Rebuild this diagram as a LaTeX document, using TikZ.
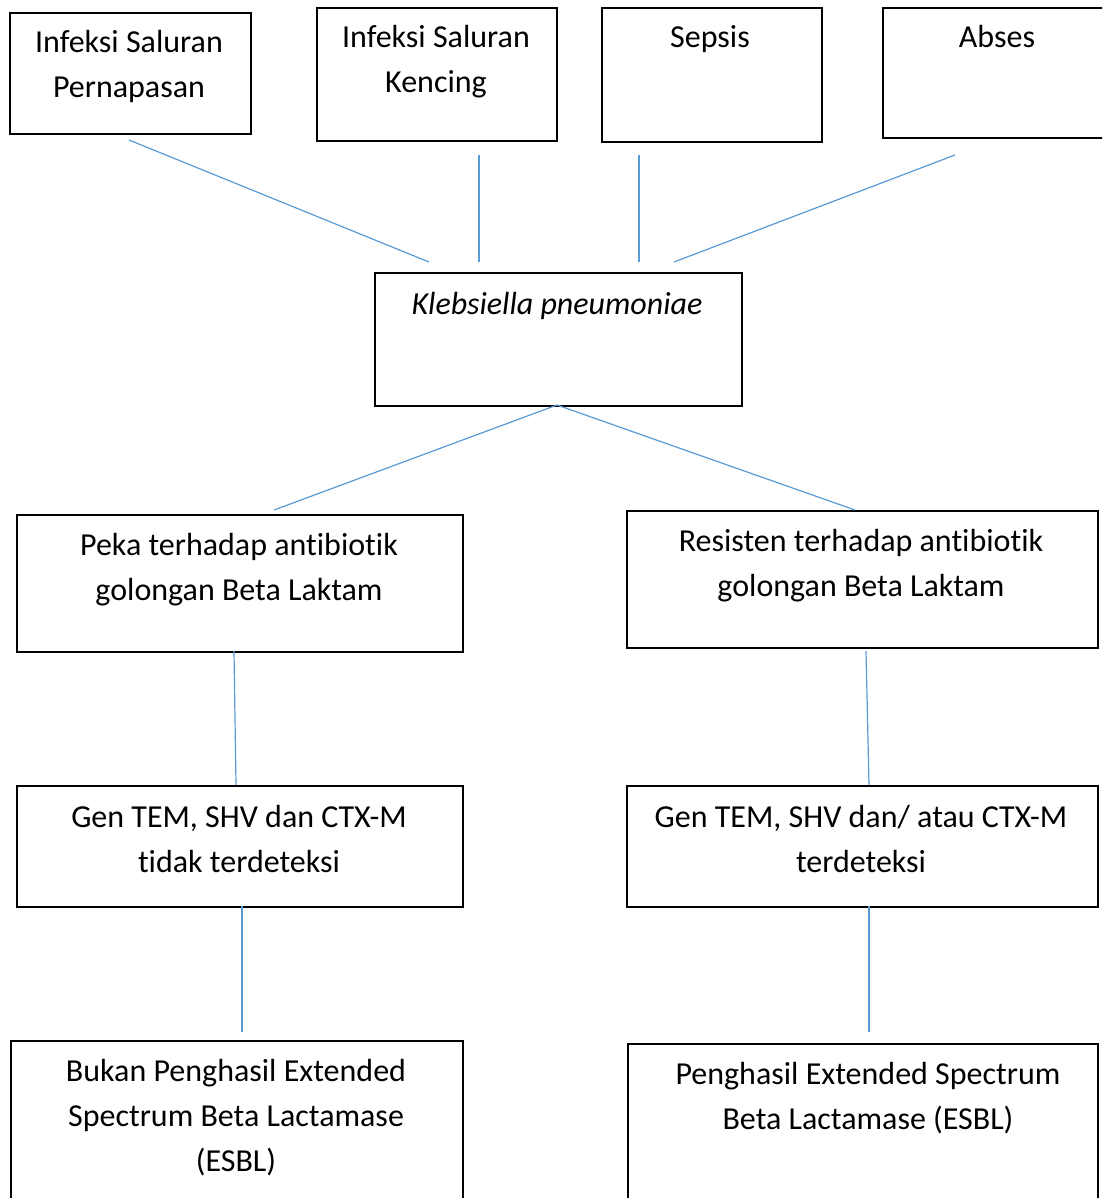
\documentclass[tikz,border=0pt]{standalone}
\usepackage{fontspec}
\setmainfont[Ligatures=NoCommon]{Carlito}
\begin{document}
\begin{tikzpicture}[x=1pt,y=-1pt,
  box/.style={draw=black, line width=1.8pt, fill=none, inner sep=0pt, anchor=north west},
  txt/.style={font=\fontsize{32}{45}\selectfont, align=center, anchor=base, inner sep=0pt, text=black},
  link/.style={draw={rgb,255:red,91;green,155;blue,213}, line width=1.2pt}]
\clip (0,0) rectangle (1102,1198);
\fill[white] (0,0) rectangle (1102,1198);
% boxes
\node[box, minimum width=241pt, minimum height=121pt] (isp) at (9,12) {};
\node[box, minimum width=240pt, minimum height=133pt] (isk) at (316,7) {};
\node[box, minimum width=220pt, minimum height=134pt] (sep) at (601,7) {};
\node[box, minimum width=240pt, minimum height=130pt] (abs) at (882,7) {};
\node[box, minimum width=367pt, minimum height=133pt] (kp) at (374,272) {};
\node[box, minimum width=446pt, minimum height=137pt] (peka) at (16,514) {};
\node[box, minimum width=471pt, minimum height=137pt] (res) at (626,510) {};
\node[box, minimum width=446pt, minimum height=121pt] (genl) at (16,785) {};
\node[box, minimum width=471pt, minimum height=121pt] (genr) at (626,785) {};
\node[box, minimum width=452pt, minimum height=200pt] (bukan) at (10,1040) {};
\node[box, minimum width=470pt, minimum height=200pt] (peng) at (627,1043) {};
% texts (anchor = baseline of last line)
\node[txt] (tisp) at (129,98) {Infeksi Saluran\\Pernapasan};
\node[txt] (tisk) at (436,93) {Infeksi Saluran\\Kencing};
\node[txt] (tsep) at (710,48) {Sepsis};
\node[txt] (tabs) at (997,48) {Abses};
\node[txt] (tkp) at (557,314) {\itshape Klebsiella pneumoniae};
\node[txt] (tpeka) at (239,600) {Peka terhadap antibiotik\\golongan Beta Laktam};
\node[txt] (tres) at (861,596) {Resisten terhadap antibiotik\\golongan Beta Laktam};
\node[txt] (tgenl) at (239,872) {Gen TEM, SHV dan CTX-M\\tidak terdeteksi};
\node[txt] (tgenr) at (861,872) {Gen TEM, SHV dan/ atau CTX-M\\terdeteksi};
\node[txt] (tbukan) at (236,1171) {Bukan Penghasil Extended\\Spectrum Beta Lactamase\\(ESBL)};
\node[txt] (tpeng) at (868,1129) {Penghasil Extended Spectrum\\Beta Lactamase (ESBL)};
% connector end points
\coordinate (a1) at (129,140); \coordinate (a2) at (429,262);
\coordinate (b1) at (479,155); \coordinate (b2) at (479,262);
\coordinate (c1) at (639,155); \coordinate (c2) at (639,262);
\coordinate (d1) at (955,155); \coordinate (d2) at (674,262);
\coordinate (k0) at (557,405);
\coordinate (e2) at (274,510); \coordinate (f2) at (855,510);
\coordinate (g1) at (234,651); \coordinate (g2) at (236,785);
\coordinate (h1) at (866,651); \coordinate (h2) at (869,785);
\coordinate (i1) at (242,906); \coordinate (i2) at (242,1032);
\coordinate (j1) at (869,906); \coordinate (j2) at (869,1032);
\draw[link] (a1) -- (a2);
\draw[link] (b1) -- (b2);
\draw[link] (c1) -- (c2);
\draw[link] (d1) -- (d2);
\draw[link] (k0) -- (e2);
\draw[link] (k0) -- (f2);
\draw[link] (g1) -- (g2);
\draw[link] (h1) -- (h2);
\draw[link] (i1) -- (i2);
\draw[link] (j1) -- (j2);
\end{tikzpicture}
\end{document}
